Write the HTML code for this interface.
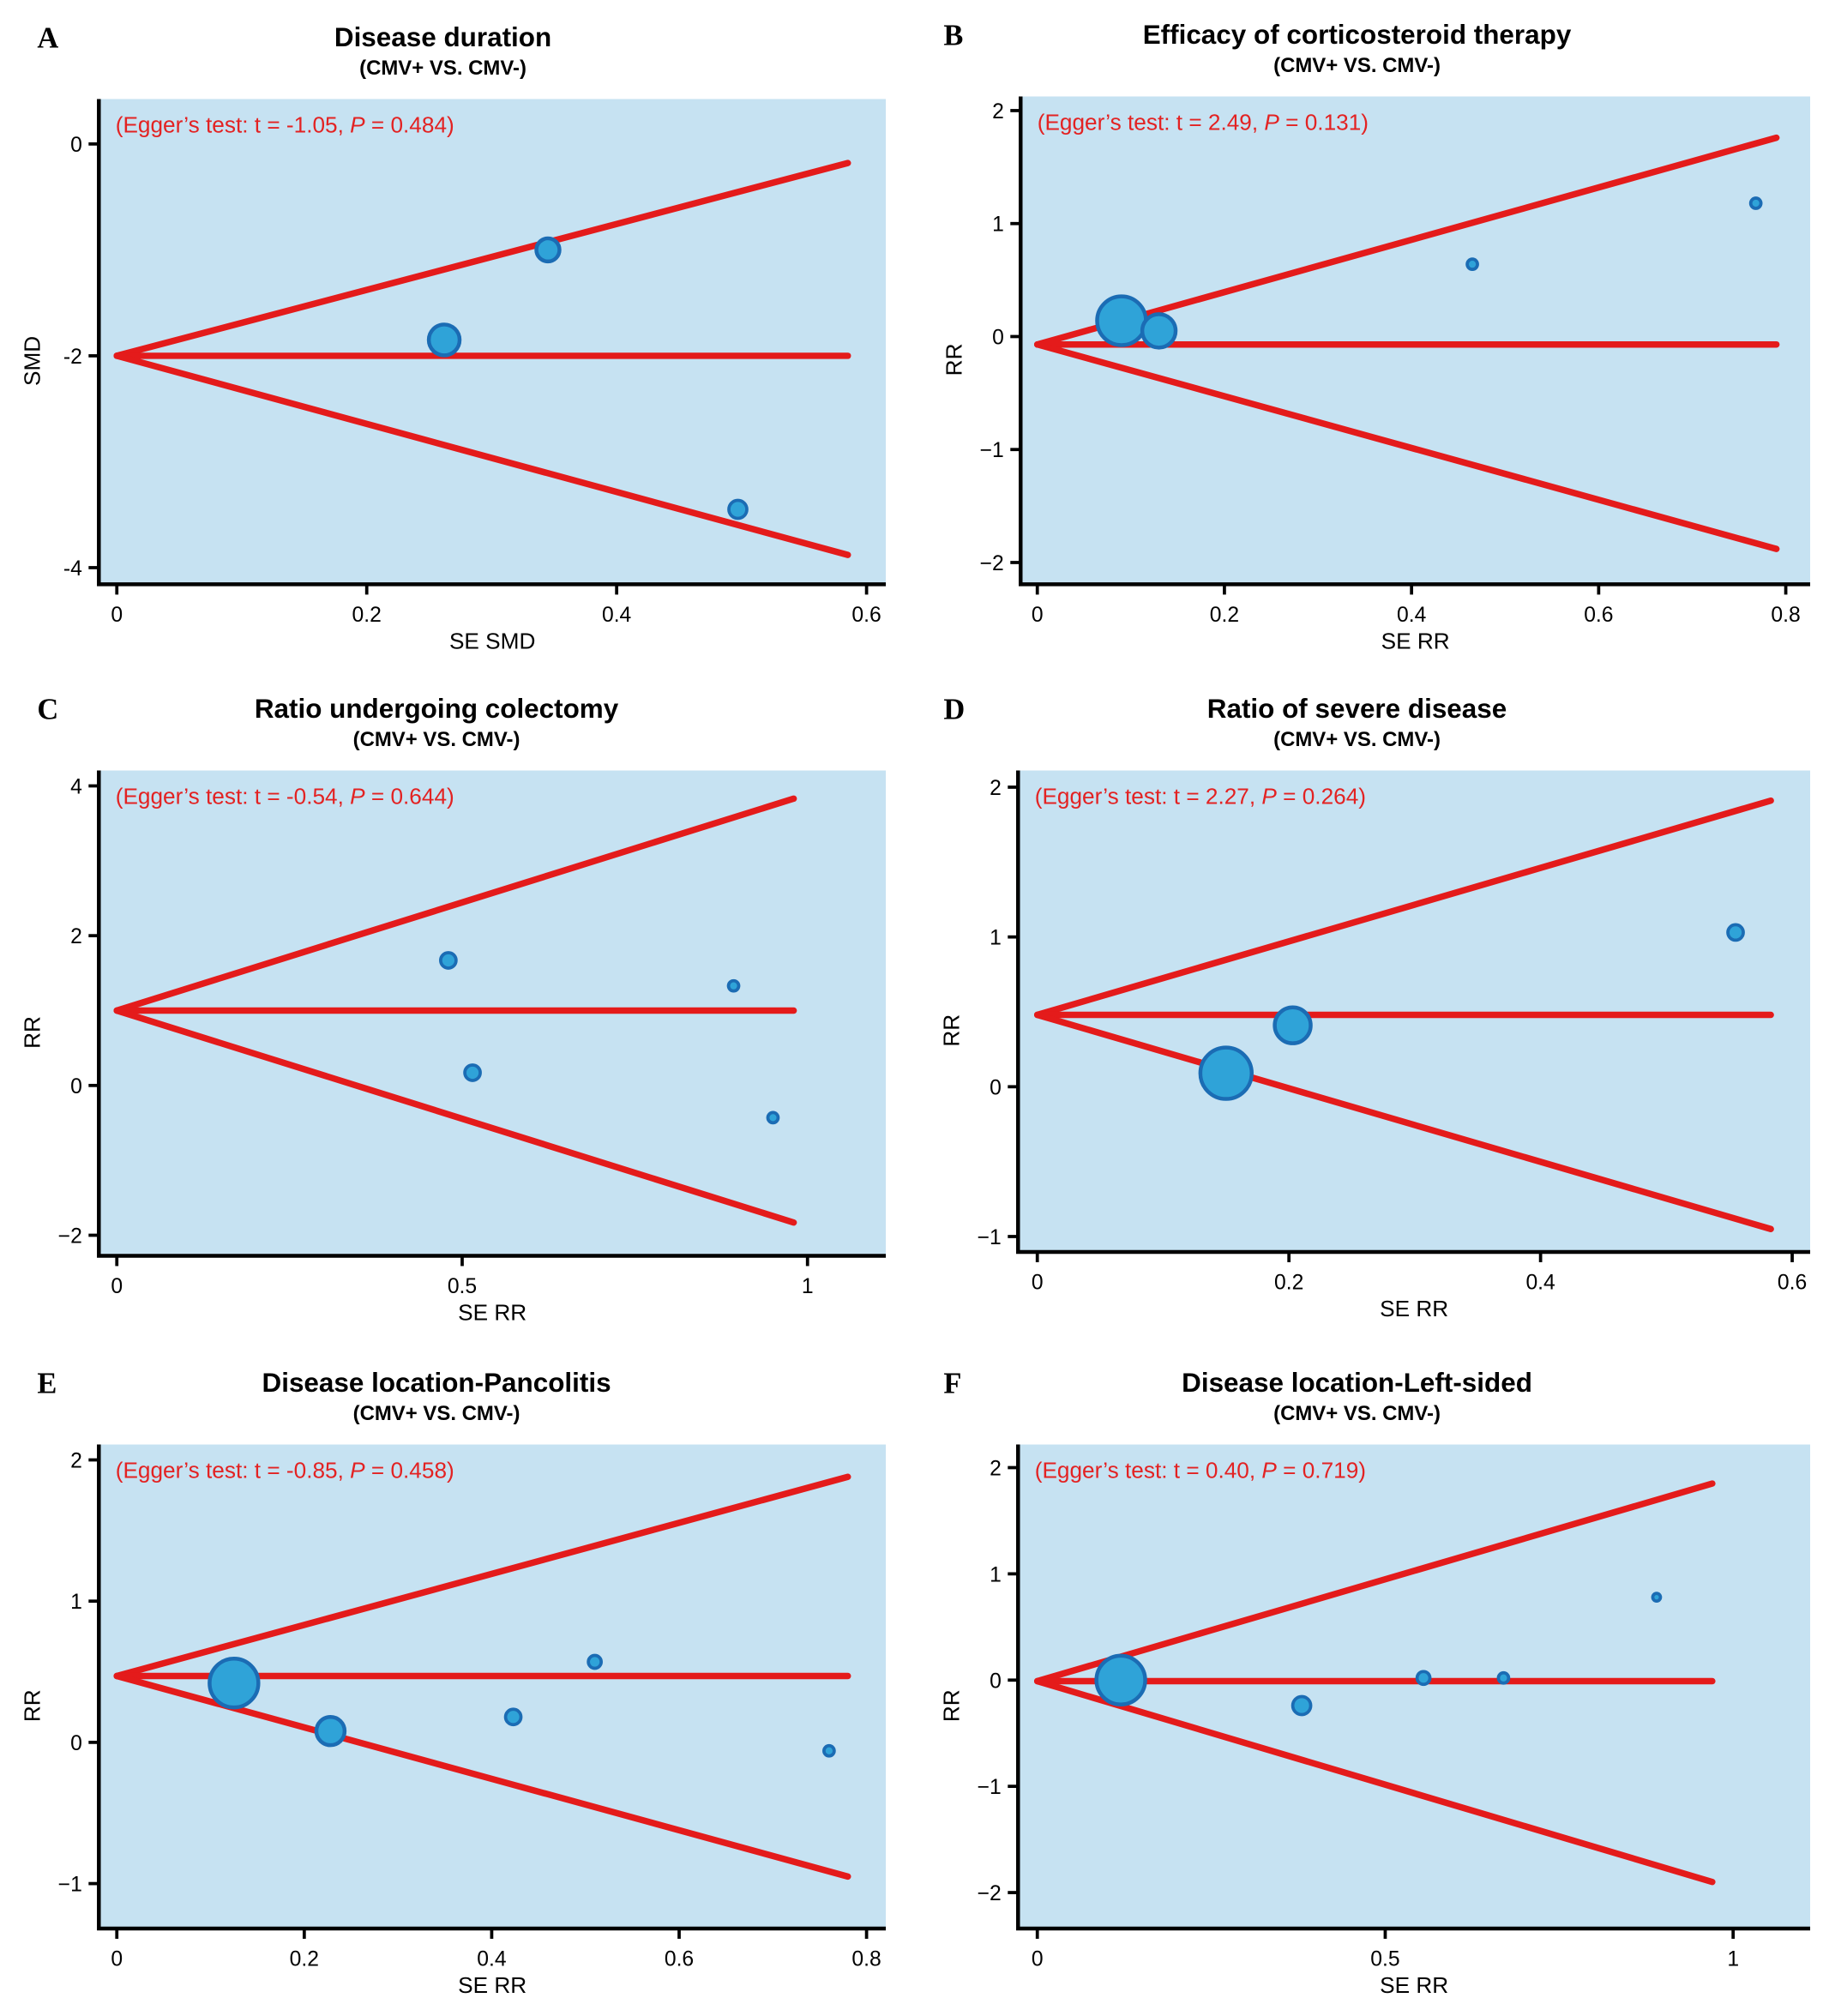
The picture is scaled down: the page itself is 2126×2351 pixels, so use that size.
<!DOCTYPE html>
<html><head><meta charset="utf-8"><style>
html,body{margin:0;padding:0;background:#fff}
svg{display:block}
text{font-family:"Liberation Sans",Arial,sans-serif}
text.plab{font-family:"Liberation Serif",serif}
</style></head><body>
<svg id="fig" width="2126" height="2351" viewBox="0 0 1420 1570" xmlns="http://www.w3.org/2000/svg"></svg>
<script>
// Panel A
const aSE=[0.345,0.262,0.497];
const aES=[-1.0,-1.85,-3.45];
const aR=[9,12,7];
const aXTicks=[0,0.2,0.4,0.6];
const aYTicks=[0,-2,-4];
// Panel B
const bSE=[0.09,0.13,0.465,0.768];
const bES=[0.14,0.05,0.64,1.18];
const bR=[19,13,4,4];
const bXTicks=[0,0.2,0.4,0.6,0.8];
const bYTicks=[2,1,0,-1,-2];
// Panel C
const cSE=[0.48,0.515,0.893,0.95];
const cES=[1.67,0.17,1.33,-0.43];
const cR=[6,6,4,4];
const cXTicks=[0,0.5,1];
const cYTicks=[4,2,0,-2];
// Panel D
const dSE=[0.15,0.203,0.555];
const dES=[0.09,0.41,1.03];
const dR=[20,14,6];
const dXTicks=[0,0.2,0.4,0.6];
const dYTicks=[2,1,0,-1];
// Panel E
const eSE=[0.125,0.228,0.423,0.51,0.76];
const eES=[0.42,0.08,0.18,0.57,-0.06];
const eR=[19,11,6,5,4];
const eXTicks=[0,0.2,0.4,0.6,0.8];
const eYTicks=[2,1,0,-1];
// Panel F
const fSE=[0.12,0.38,0.555,0.67,0.89];
const fES=[0.0,-0.24,0.02,0.02,0.78];
const fR=[19,7,5,4,3];
const fXTicks=[0,0.5,1];
const fYTicks=[2,1,0,-1,-2];
// Funnel lines: apex value, end SE, upper end, lower end
const aFunnel=[-2,0.585,-0.18,-3.88];
const bFunnel=[-0.07,0.79,1.76,-1.88];
const cFunnel=[1.0,0.98,3.83,-1.83];
const dFunnel=[0.48,0.583,1.91,-0.95];
const eFunnel=[0.47,0.78,1.88,-0.95];
const fFunnel=[-0.01,0.97,1.85,-1.9];

const NS="http://www.w3.org/2000/svg";
const svg=document.getElementById('fig');
function mk(tag,attrs,parent){const e=document.createElementNS(NS,tag);for(const k in attrs)e.setAttribute(k,attrs[k]);(parent||svg).appendChild(e);return e;}
function fmt(v){return v<0?'\u2212'+Math.abs(v):String(v);}

const panels=[
 {id:'a',L:'A',title:'Disease duration',egger:['t = -1.05, ','0.484'],ylab:'SMD',xlab:'SE SMD',
  box:[77,77,690,455],x0:91,x1:675,xv1:0.6,y0:112,yv0:0,y1:442,yv1:-4,se:aSE,es:aES,r:aR,xt:aXTicks,yt:aYTicks,fn:aFunnel,cx:345},
 {id:'b',L:'B',title:'Efficacy of corticosteroid therapy',egger:['t = 2.49, ','0.131'],ylab:'RR',xlab:'SE RR',
  box:[795,75,1410,455],x0:808,x1:1391,xv1:0.8,y0:86,yv0:2,y1:438,yv1:-2,se:bSE,es:bES,r:bR,xt:bXTicks,yt:bYTicks,fn:bFunnel,cx:1057},
 {id:'c',L:'C',title:'Ratio undergoing colectomy',egger:['t = -0.54, ','0.644'],ylab:'RR',xlab:'SE RR',
  box:[77,600,690,978],x0:91,x1:629,xv1:1,y0:612,yv0:4,y1:962,yv1:-2,se:cSE,es:cES,r:cR,xt:cXTicks,yt:cYTicks,fn:cFunnel,cx:340},
 {id:'d',L:'D',title:'Ratio of severe disease',egger:['t = 2.27, ','0.264'],ylab:'RR',xlab:'SE RR',
  box:[793,600,1410,975],x0:808,x1:1396,xv1:0.6,y0:613,yv0:2,y1:963,yv1:-1,se:dSE,es:dES,r:dR,xt:dXTicks,yt:dYTicks,fn:dFunnel,cx:1057},
 {id:'e',L:'E',title:'Disease location-Pancolitis',egger:['t = -0.85, ','0.458'],ylab:'RR',xlab:'SE RR',
  box:[77,1125,690,1502],x0:91,x1:675,xv1:0.8,y0:1137,yv0:2,y1:1467,yv1:-1,se:eSE,es:eES,r:eR,xt:eXTicks,yt:eYTicks,fn:eFunnel,cx:340},
 {id:'f',L:'F',title:'Disease location-Left-sided',egger:['t = 0.40, ','0.719'],ylab:'RR',xlab:'SE RR',
  box:[793,1125,1410,1502],x0:808,x1:1350,xv1:1,y0:1143,yv0:2,y1:1474,yv1:-2,se:fSE,es:fES,r:fR,xt:fXTicks,yt:fYTicks,fn:fFunnel,cx:1057}
];

panels.forEach(p=>{
 const g=mk('g',{});
 
 
 const X=v=>p.x0+(p.x1-p.x0)*v/p.xv1;
 const Y=v=>p.y0+(p.y1-p.y0)*(v-p.yv0)/(p.yv1-p.yv0);
 const [bx0,by0,bx1,by1]=p.box;
 const bg=mk('rect',{x:bx0,y:by0,width:bx1-bx0,height:by1-by0,fill:'#c6e2f2'},g);
 
 
 const lab=mk('text',{class:'plab','font-size':23,'font-weight':'bold'},g);
 lab.textContent=p.L;
 lab.setAttribute('x',p.id==='a'||p.id==='c'||p.id==='e'?29:735);
 lab.setAttribute('y',by0-40);
 
 
 const t=mk('text',{x:p.cx,y:by0-41,'font-size':21,'font-weight':'bold','text-anchor':'middle'},g);
 t.textContent=p.title;
 
 
 const st=mk('text',{x:p.cx,y:by0-19,'font-size':16,'font-weight':'bold','text-anchor':'middle'},g);
 st.textContent='(CMV+ VS. CMV-)';
 
 
 const eg=mk('text',{x:bx0+13,y:by0+26,'font-size':17.5,fill:'#e32222'},g);
 eg.innerHTML="(Egger\u2019s test: "+p.egger[0]+"<tspan font-style='italic'>P</tspan> = "+p.egger[1]+")";
 
 
 const ax=mk('path',{d:`M${bx0} ${by0} V${by1} H${bx1}`,stroke:'#000','stroke-width':3,fill:'none'},g);
 
 
 p.xt.forEach(v=>{
  const tk=mk('line',{x1:X(v),x2:X(v),y1:by1,y2:by1+8,stroke:'#000','stroke-width':2.5},g);
  
  
  const tl=mk('text',{x:X(v),y:by1+29,'font-size':16.5,'text-anchor':'middle'},g);
  tl.textContent=String(v);
  
  
 });
 p.yt.forEach(v=>{
  const tk=mk('line',{x1:bx0-8,x2:bx0,y1:Y(v),y2:Y(v),stroke:'#000','stroke-width':2.5},g);
  
  
  const tl=mk('text',{x:bx0-13,y:Y(v)+6,'font-size':16.5,'text-anchor':'end'},g);
  tl.textContent=p.id==='a'?String(v):fmt(v);
  
  
 });
 const xl=mk('text',{x:(bx0+bx1)/2,y:by1+50,'font-size':17.5,'text-anchor':'middle'},g);
 xl.textContent=p.xlab;
 
 
 const ymid=(by0+by1)/2+15;
 const yl=mk('text',{x:0,y:0,'font-size':17.5,'text-anchor':'middle',transform:`translate(${bx0-46},${ymid}) rotate(-90)`},g);
 yl.textContent=p.ylab;
 
 
 const [ap,ex,up,lo]=p.fn;
 [[up,'funnel-upper-line'],[ap,'pooled-effect-line'],[lo,'funnel-lower-line']].forEach(([v,n])=>{
  const ln=mk('line',{x1:X(0),y1:Y(ap),x2:X(ex),y2:Y(v),stroke:'#e41b1b','stroke-width':5,'stroke-linecap':'round'},g);
  
  
 });
 p.se.forEach((s,i)=>{
  const c=mk('circle',{cx:X(s),cy:Y(p.es[i]),r:p.r[i],fill:'#2fa3d8',stroke:'#1b6cb4','stroke-width':p.r[i]>8?3:2.5},g);
  
  
 });
});
</script>
</body></html>
